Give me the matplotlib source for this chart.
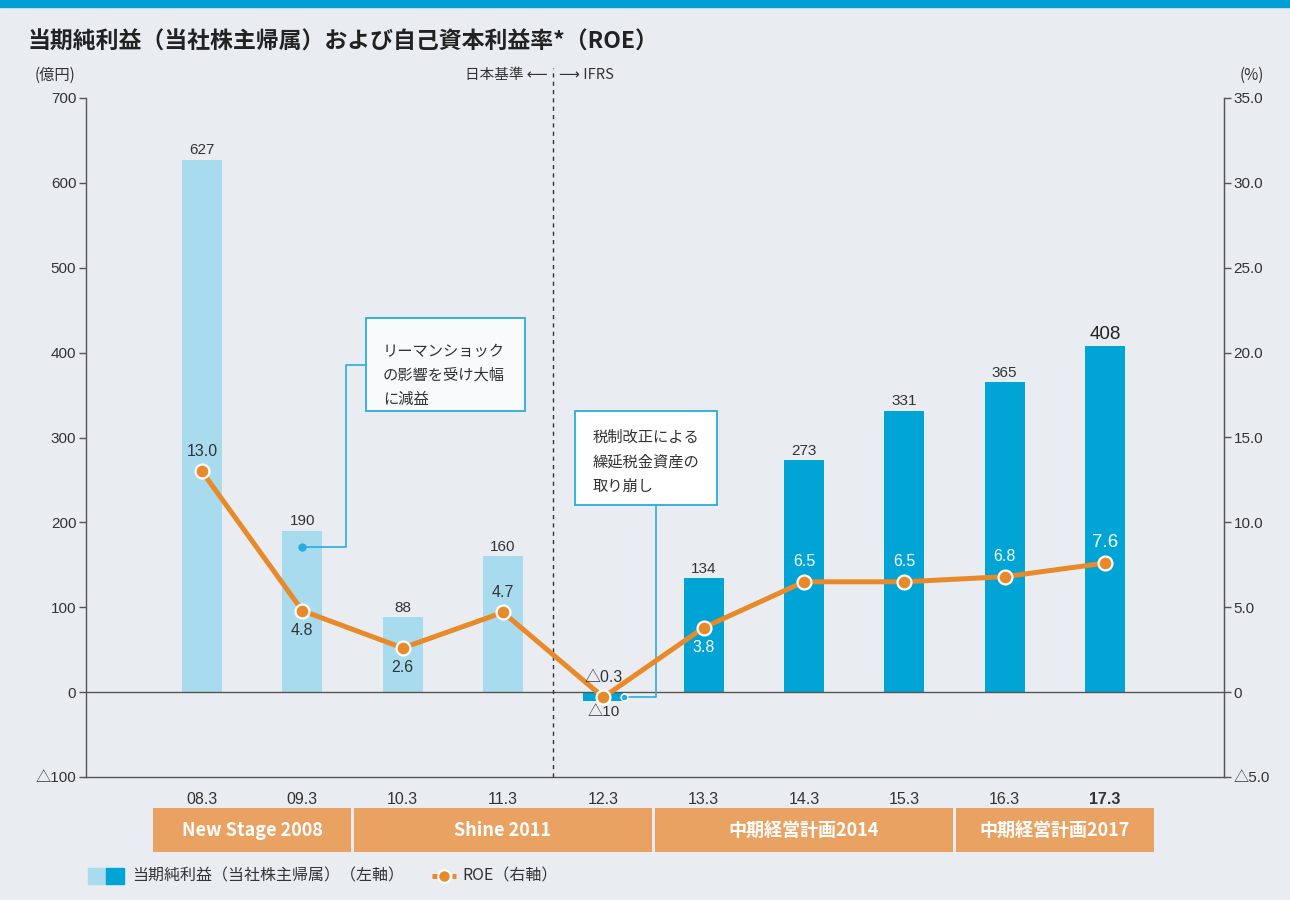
import numpy as np
import matplotlib.pyplot as plt
import matplotlib.transforms as mtransforms
from matplotlib.patches import Rectangle
from matplotlib.lines import Line2D

plt.rcParams['font.family'] = ['Noto Sans CJK JP', 'DejaVu Sans']
NUM = ['Liberation Sans', 'Noto Sans CJK JP', 'DejaVu Sans']

# data
years = ['08.3', '09.3', '10.3', '11.3', '12.3', '13.3', '14.3', '15.3', '16.3', '17.3']
net_income = [627, 190, 88, 160, -10, 134, 273, 331, 365, 408]
income_labels = ['627', '190', '88', '160', '△10', '134', '273', '331', '365', '408']
roe = [13.0, 4.8, 2.6, 4.7, -0.3, 3.8, 6.5, 6.5, 6.8, 7.6]
roe_labels = ['13.0', '4.8', '2.6', '4.7', '△0.3', '3.8', '6.5', '6.5', '6.8', '7.6']
roe_label_pos = ['up', 'down', 'down', 'up', 'up', 'down', 'up', 'up', 'up', 'up']
plans = ['New Stage 2008', 'Shine 2011', '中期経営計画2014', '中期経営計画2017']
plan_spans = [(0, 1), (2, 4), (5, 7), (8, 9)]
left_ticks = [-100, 0, 100, 200, 300, 400, 500, 600, 700]
left_ticklabels = ['△100', '0', '100', '200', '300', '400', '500', '600', '700']
right_ticks = [-5, 0, 5, 10, 15, 20, 25, 30, 35]
right_ticklabels = ['△5.0', '0', '5.0', '10.0', '15.0', '20.0', '25.0', '30.0', '35.0']

BG = '#e9edf1'
LIGHT = '#a9dbef'
DARK = '#00a4d5'
ORANGE = '#e8892a'
BAND = '#e9a262'
TXT = '#333333'
CALL = '#29abe2'

fig = plt.figure(figsize=(12.9, 9), dpi=100, facecolor=BG)
fig.patches.append(Rectangle((0, 1 - 7 / 900), 1, 7 / 900, transform=fig.transFigure,
                             color='#00a0d6', zorder=0))

ax = fig.add_axes([86 / 1290, 1 - 777 / 900, (1224 - 86) / 1290, (777 - 98) / 900])
ax.set_facecolor('none')
x = np.arange(len(years))
colors = [LIGHT if i < 4 else DARK for i in range(len(years))]
ax.bar(x, net_income, width=0.4, color=colors, zorder=2)
ax.set_xlim(-1.156, 10.186)
ax.set_ylim(-100, 700)
ax.axhline(0, color='#555555', lw=1, zorder=3)

ax.set_yticks(left_ticks)
ax.set_yticklabels(left_ticklabels, family=NUM)
ax.set_xticks(x)
ax.set_xticklabels(years, family=NUM)
ax.tick_params(axis='y', length=5, width=1, color='#555555', labelsize=11, labelcolor=TXT, pad=2)
ax.tick_params(axis='x', length=0, labelsize=11.5, labelcolor=TXT, pad=11)
ax.get_xticklabels()[-1].set_fontweight('bold')
ax.spines['top'].set_visible(False)
for s in ['left', 'right', 'bottom']:
    ax.spines[s].set_color('#555555')
    ax.spines[s].set_linewidth(1)

for i, (v, lab) in enumerate(zip(net_income, income_labels)):
    big = i == len(years) - 1
    if v >= 0:
        ax.annotate(lab, (i, v), xytext=(0, 2), textcoords='offset points', ha='center',
                    va='bottom', fontsize=13.5 if big else 11, color='#222222' if big else TXT,
                    family=NUM)
    else:
        ax.annotate(lab, (i, v), xytext=(0, -3), textcoords='offset points', ha='center',
                    va='top', fontsize=11, color=TXT, family=NUM)

# 日本基準 / IFRS divider between 11.3 and 12.3
ax.axvline(3.5, ymin=0, ymax=(777 - 68) / 679, color='#333333', lw=1, ls=(0, (3, 3)),
           clip_on=False, zorder=4)
ty = (777 - 75) / 679
trans = mtransforms.blended_transform_factory(ax.transData, ax.transAxes)
ax.annotate('日本基準 ⟵', (3.5, ty), xycoords=trans, xytext=(-4, 0), textcoords='offset points',
            ha='right', va='center', fontsize=10.5, color=TXT)
ax.annotate('⟶ IFRS', (3.5, ty), xycoords=trans, xytext=(4, 0), textcoords='offset points',
            ha='left', va='center', fontsize=10.5, color=TXT)

# axis units
fig.text(55 / 1290, 1 - 75 / 900, '(億円)', ha='center', va='center', fontsize=11, color=TXT)
fig.text(1252 / 1290, 1 - 75 / 900, '(%)', ha='center', va='center', fontsize=11, color=TXT)

# callouts
ax.plot([1, 1.435, 1.435, 1.635], [171, 171, 386, 386], color=CALL, lw=1.2, zorder=5)
ax.plot([1], [171], 'o', color=CALL, ms=5, zorder=5)
ax.add_patch(Rectangle((1.635, 331), 1.584, 109.5, facecolor='#f8fafc', edgecolor=CALL,
                       lw=1.3, zorder=5))
ax.text(1.805, 412, 'リーマンショック\nの影響を受け大幅\nに減益', ha='left', va='top',
        fontsize=11, color=TXT, linespacing=1.55, zorder=6)

ax.plot([4.206, 4.525, 4.525], [-6, -6, 220], color=CALL, lw=1.2, zorder=5)
ax.plot([4.206], [-6], 'o', color=CALL, ms=5, zorder=5, markeredgecolor='white', mew=1)
ax.add_patch(Rectangle((3.718, 220), 1.415, 111, facecolor='white', edgecolor=CALL,
                       lw=1.3, zorder=5))
ax.text(3.888, 310, '税制改正による\n繰延税金資産の\n取り崩し', ha='left', va='top',
        fontsize=11, color=TXT, linespacing=1.55, zorder=6)

# period bands
bt = mtransforms.blended_transform_factory(ax.transData, ax.transAxes)
y0 = (777 - 852) / 679
y1 = (777 - 808) / 679
gap = 0.012
for name, (a, b) in zip(plans, plan_spans):
    ax.add_patch(Rectangle((a - 0.5 + gap, y0), b - a + 1 - 2 * gap, y1 - y0, transform=bt,
                           facecolor=BAND, edgecolor='none', clip_on=False))
    ax.text((a + b) / 2, (y0 + y1) / 2, name, transform=bt, ha='center', va='center',
            fontsize=13, color='white', fontweight='bold')

# ROE line
ax2 = ax.twinx()
ax2.set_ylim(-5, 35)
ax2.set_yticks(right_ticks)
ax2.set_yticklabels(right_ticklabels, family=NUM)
ax2.tick_params(axis='y', length=5, width=1, color='#555555', labelsize=11, labelcolor=TXT, pad=2)
for s in ['top', 'left', 'bottom']:
    ax2.spines[s].set_visible(False)
ax2.spines['right'].set_color('#555555')
ax2.plot(x, roe, color=ORANGE, lw=3.6, marker='o', ms=10, mfc=ORANGE, mec='white', mew=1.6,
         zorder=6, solid_capstyle='round')
for i, (v, lab, p) in enumerate(zip(roe, roe_labels, roe_label_pos)):
    col = 'white' if i >= 5 else TXT
    big = i == len(years) - 1
    dy = 9 if p == 'up' else -9
    ax2.annotate(lab, (i, v), xytext=(0, dy), textcoords='offset points', ha='center',
                 va='bottom' if p == 'up' else 'top', fontsize=13.5 if big else 11.5,
                 color=col, family=NUM, zorder=7)

# title
fig.text(28 / 1290, 1 - 42 / 900, '当期純利益（当社株主帰属）および自己資本利益率*（ROE）', ha='left',
         va='center', fontsize=16.5, fontweight='bold', color='#222222')

# legend
fig.patches.append(Rectangle((88 / 1290, 1 - 884 / 900), 18 / 1290, 16 / 900,
                             transform=fig.transFigure, color=LIGHT))
fig.patches.append(Rectangle((106 / 1290, 1 - 884 / 900), 18 / 1290, 16 / 900,
                             transform=fig.transFigure, color=DARK))
fig.text(132 / 1290, 1 - 876 / 900, '当期純利益（当社株主帰属）（左軸）', ha='left', va='center',
         fontsize=11.5, color=TXT)
fig.add_artist(Line2D([432 / 1290, 456 / 1290], [1 - 876 / 900] * 2, transform=fig.transFigure,
                      color=ORANGE, lw=3.6, ls=(0, (1.2, 0.8))))
fig.add_artist(Line2D([444 / 1290], [1 - 876 / 900], transform=fig.transFigure, marker='o',
                      ms=9, mfc=ORANGE, mec='white', mew=1.5, color=ORANGE))
fig.text(462 / 1290, 1 - 876 / 900, 'ROE（右軸）', ha='left', va='center', fontsize=11.5, color=TXT)

fig.savefig('out.png', dpi=100, facecolor=BG)
